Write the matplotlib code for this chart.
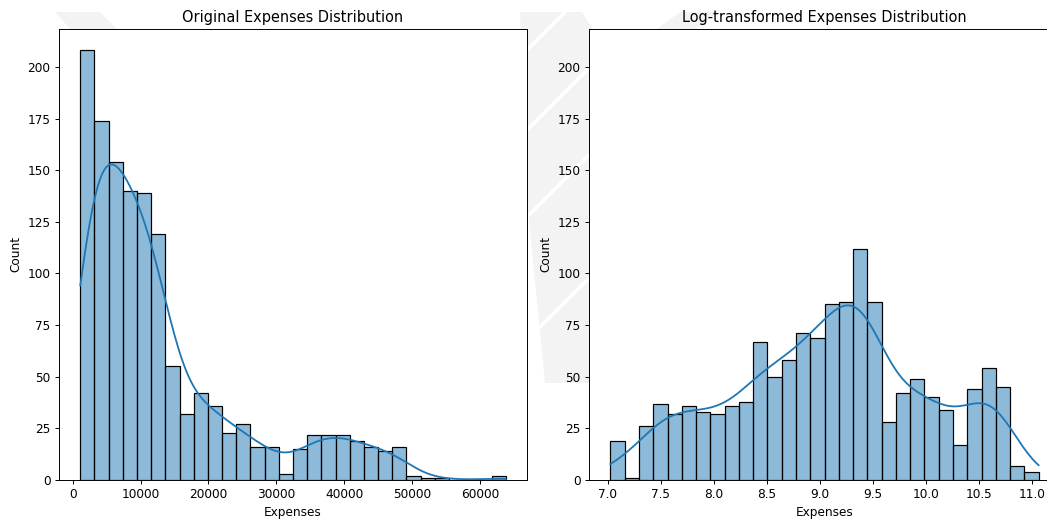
import numpy as np
import matplotlib
matplotlib.use("Agg")
import matplotlib.pyplot as plt
import seaborn as sns
from matplotlib.patches import Polygon
from matplotlib.lines import Line2D

# charges range in the insurance data, and counts per bin (30 bins)
expense_min = 1121.87
expense_max = 63770.43
n_records = 1338

raw_counts = [208, 174, 154, 140, 139, 119, 55, 32, 42, 36,
              23, 27, 16, 16, 3, 15, 22, 22, 22, 19,
              16, 14, 16, 2, 1, 1, 0, 0, 0, 2]
log_counts = [19, 1, 26, 37, 32, 36, 33, 32, 36, 38,
              67, 50, 58, 71, 69, 85, 86, 112, 86, 28,
              42, 49, 40, 34, 17, 44, 54, 45, 7, 4]

FIG_W, FIG_H = 1047, 521
MARK_GRAY = "#f3f3f3"


def px_rect(left, top, width, height):
    """Axes rect in figure fractions from pixel box (top-left origin)."""
    return [left / FIG_W, 1 - (top + height) / FIG_H, width / FIG_W, height / FIG_H]


def to_fig(pts):
    return [(x / FIG_W, 1 - y / FIG_H) for x, y in pts]


def draw_watermark(fig):
    """Faint striped logo sitting behind the figure."""
    shapes = [
        [(55, 12), (100, 12), (128, 40), (80, 40)],
        [(680, 12), (718, 12), (690, 34), (650, 34)],
        [(520, 12), (582, 12), (600, 40), (600, 383), (545, 383), (527, 200)],
    ]
    for pts in shapes:
        fig.patches.append(Polygon(to_fig(pts), closed=True, transform=fig.transFigure,
                                   facecolor=MARK_GRAY, edgecolor="none", zorder=-5))
    # white gaps between the diagonal stripes
    for y0 in (50, 130, 217, 340):
        xs = [500, 620]
        ys = [y0 + 27, y0 - 93]
        fig.lines.append(Line2D([x / FIG_W for x in xs], [1 - y / FIG_H for y in ys],
                                transform=fig.transFigure, color="white",
                                linewidth=3, zorder=-4))


def plot_binned(ax, lo, hi, counts, title):
    """Histogram + KDE from binned counts over [lo, hi]."""
    edges = np.linspace(lo, hi, len(counts) + 1)
    centers = (edges[:-1] + edges[1:]) / 2
    w = np.asarray(counts, dtype=float)

    # weighted KDE uses the effective sample size, rescale to the real n
    n_eff = w.sum() ** 2 / (w ** 2).sum()
    bw_adjust = float((n_records / n_eff) ** -0.2)

    sns.histplot(x=centers, weights=w, bins=len(counts), binrange=(lo, hi),
                 kde=True, ax=ax,
                 kde_kws={"bw_adjust": bw_adjust, "cut": 3, "clip": (float(lo), float(hi))})
    ax.set_title(title)
    ax.set_xlabel("Expenses")
    ax.set_ylabel("Count")


def main():
    fig = plt.figure(figsize=(FIG_W / 87.25, FIG_H / 87.25), dpi=87.25)
    draw_watermark(fig)

    ax1 = fig.add_axes(px_rect(59, 29, 468, 451))
    ax2 = fig.add_axes(px_rect(589, 29, 471, 451))

    plot_binned(ax1, expense_min, expense_max, raw_counts,
                "Original Expenses Distribution")
    plot_binned(ax2, np.log(expense_min), np.log(expense_max), log_counts,
                "Log-transformed Expenses Distribution")

    top = max(raw_counts) * 1.05
    ax1.set_ylim(0, top)
    ax2.set_ylim(0, top)

    fig.savefig("out.png", dpi=87.25)


if __name__ == "__main__":
    main()
